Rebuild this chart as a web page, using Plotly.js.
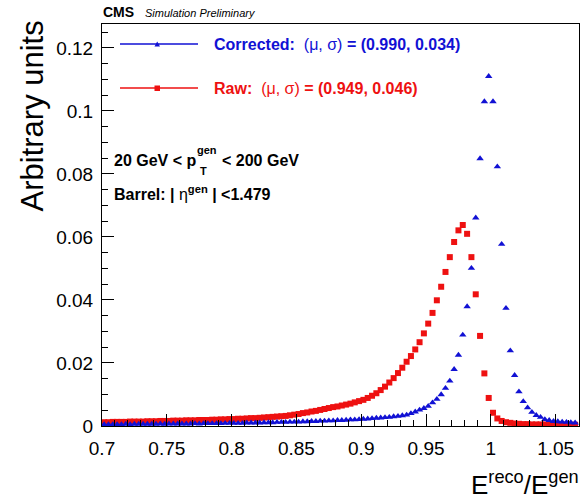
<!DOCTYPE html>
<html>
<head>
<meta charset="utf-8">
<script src="https://cdn.plot.ly/plotly-3.0.1.min.js"></script>
<style>html,body{margin:0;padding:0;background:#fff;}#plot{width:582px;height:499px;}</style>
</head>
<body>
<div id="plot"></div>
<script>
// Histogram bins: centers of 1/300-wide bins from 0.70167 up to 1.065
const firstBinCenter = 0.701667;
const binWidth = 1 / 300;

// Corrected (blue triangles), arbitrary units
const corrected = [
  0.0005,0.0005,0.0005,0.0005,0.0005,0.0006,0.0005,0.0006,0.0006,0.0006,
  0.0006,0.0006,0.0006,0.0007,0.0006,0.0007,0.0007,0.0007,0.0007,0.0007,
  0.0007,0.0008,0.0007,0.0008,0.0008,0.0008,0.0008,0.0008,0.0009,0.0009,
  0.0009,0.0009,0.0009,0.0010,0.0010,0.0010,0.0010,0.0011,0.0011,0.0011,
  0.0012,0.0012,0.0012,0.0013,0.0013,0.0013,0.0014,0.0014,0.0015,0.0015,
  0.0016,0.0016,0.0017,0.0017,0.0018,0.0018,0.0019,0.0020,0.0020,0.0021,
  0.0022,0.0023,0.0024,0.0025,0.0026,0.0027,0.0028,0.0030,0.0031,0.0033,
  0.0035,0.0040,0.0045,0.0051,0.0056,0.0063,0.0074,0.0085,0.0100,0.0120,
  0.0143,0.0180,0.0225,0.0289,0.0379,0.0501,0.0661,0.0849,0.1030,0.1110,
  0.1030,0.0823,0.0577,0.0374,0.0239,0.0161,0.0109,0.0078,0.0058,0.0044,
  0.0034,0.0028,0.0021,0.0018,0.0015,0.0014,0.0013,0.0012,0.0011,0.0010
];

// Raw (red squares), arbitrary units
const raw = [
  0.0012,0.0012,0.0013,0.0013,0.0013,0.0013,0.0014,0.0014,0.0014,0.0014,
  0.0015,0.0015,0.0015,0.0016,0.0016,0.0016,0.0017,0.0017,0.0017,0.0018,
  0.0018,0.0018,0.0019,0.0019,0.0019,0.0020,0.0020,0.0021,0.0021,0.0022,
  0.0022,0.0023,0.0023,0.0024,0.0025,0.0025,0.0026,0.0027,0.0028,0.0029,
  0.0030,0.0031,0.0032,0.0034,0.0036,0.0038,0.0041,0.0043,0.0046,0.0048,
  0.0051,0.0054,0.0057,0.0060,0.0062,0.0065,0.0068,0.0071,0.0075,0.0079,
  0.0083,0.0089,0.0096,0.0104,0.0114,0.0125,0.0138,0.0152,0.0168,0.0185,
  0.0204,0.0222,0.0243,0.0266,0.0294,0.0325,0.0359,0.0399,0.0442,0.0489,
  0.0536,0.0584,0.0621,0.0638,0.0610,0.0536,0.0418,0.0286,0.0167,0.0089,
  0.0042,0.0024,0.0016,0.0012,0.0010,0.0008,0.0007,0.0006,0.0006,0.0005,
  0.0005,0.0005,0.0005,0.0005,0.0004,0.0004,0.0004,0.0004,0.0004,0.0004
];

const seriesNames = ["Corrected", "Raw"];
const legendTexts = [
  "<b>Corrected:</b>  (\u03bc, \u03c3) <b>= (0.990, 0.034)</b>",
  "<b>Raw:</b>  (\u03bc, \u03c3) <b>= (0.949, 0.046)</b>"
];
const xTicks = [0.7, 0.75, 0.8, 0.85, 0.9, 0.95, 1, 1.05];
const yTicks = [0, 0.02, 0.04, 0.06, 0.08, 0.1, 0.12];

const binCenters = corrected.map((_, i) => firstBinCenter + i * binWidth);

const BLUE = '#1111d4';
const RED = '#ee1111';
const W = 582, H = 499;
const L = 102, R = 579, T = 24, B = 426;
const px = x => (x - L) / (R - L);
const py = y => (B - y) / (B - T);
const FONT = 'Liberation Sans, Arial, Helvetica, sans-serif';

const traces = [
  {x: binCenters, y: raw, type: 'scatter', mode: 'markers', name: seriesNames[1],
   marker: {symbol: 'square', size: 6, color: RED, line: {width: 0}}},
  {x: binCenters, y: corrected, type: 'scatter', mode: 'markers', name: seriesNames[0],
   marker: {symbol: 'triangle-up', size: 6.5, color: BLUE, line: {width: 0}}}
];

const shapes = [
  {type: 'line', xref: 'paper', yref: 'paper', x0: px(120), x1: px(198), y0: py(44), y1: py(44), line: {color: BLUE, width: 1.5}},
  {type: 'line', xref: 'paper', yref: 'paper', x0: px(120), x1: px(198), y0: py(88), y1: py(88), line: {color: RED, width: 1.5}},
  {type: 'rect', xref: 'paper', yref: 'paper', x0: px(154.5), x1: px(160), y0: py(85.5), y1: py(91), fillcolor: RED, line: {width: 0}},
  {type: 'path', xref: 'paper', yref: 'paper',
   path: `M ${px(154.5)} ${py(46.5)} L ${px(160)} ${py(46.5)} L ${px(157.2)} ${py(41.5)} Z`,
   fillcolor: BLUE, line: {width: 0}}
];

const ann = (x, y, text, size, opts) => Object.assign({
  xref: 'paper', yref: 'paper', x: px(x), y: py(y), text: text, showarrow: false,
  xanchor: 'left', yanchor: 'middle', font: {family: FONT, size: size, color: '#000'}
}, opts || {});

const annotations = [
  ann(212, 44, legendTexts[0], 16, {font: {family: FONT, size: 16, color: BLUE}}),
  ann(212, 88, legendTexts[1], 16, {font: {family: FONT, size: 16, color: RED}}),
  ann(112, 161, '<b>20 GeV < p</b>', 16),
  ann(198, 171, '<b>T</b>', 11),
  ann(195, 150, '<b>gen</b>', 11),
  ann(220, 161, '<b>< 200 GeV</b>', 16),
  ann(112, 193, '<b>Barrel: |</b> \u03b7<sup><b>gen</b></sup> <b>| <1.479</b>', 16),
  ann(101, 12, '<b>CMS</b>', 14),
  ann(143, 13, '<i>Simulation Preliminary</i>', 11),
  ann(581, 484, 'E<sup>reco</sup>/E<sup>gen</sup>', 26, {xanchor: 'right'}),
  ann(32, 19, 'Arbitrary units', 31, {textangle: -90, yanchor: 'top', xanchor: 'center'})
];

const axisCommon = {
  showgrid: false, zeroline: false, showline: true, linecolor: '#000', linewidth: 1,
  mirror: true, ticks: 'inside', tickcolor: '#000', ticklen: 12,
  tickfont: {family: FONT, size: 19, color: '#000'}
};

const layout = {
  width: W, height: H,
  margin: {l: L, r: W - R, t: T, b: H - B},
  paper_bgcolor: '#fff', plot_bgcolor: '#fff',
  showlegend: false,
  xaxis: Object.assign({}, axisCommon, {
    range: [0.7, 1.068], tickvals: xTicks, ticktext: xTicks.map(String),
    ticklabelstandoff: 5,
    minor: {dtick: 0.01, tick0: 0.7, ticks: 'inside', ticklen: 6, tickcolor: '#000', showgrid: false}
  }),
  yaxis: Object.assign({}, axisCommon, {
    range: [0, 0.1276], tickvals: yTicks, ticktext: yTicks.map(String),
    ticklabelstandoff: 4,
    minor: {dtick: 0.005, tick0: 0, ticks: 'inside', ticklen: 6, tickcolor: '#000', showgrid: false}
  }),
  shapes: shapes,
  annotations: annotations
};

Plotly.newPlot('plot', traces, layout, {staticPlot: true, displayModeBar: false});
</script>
</body>
</html>
